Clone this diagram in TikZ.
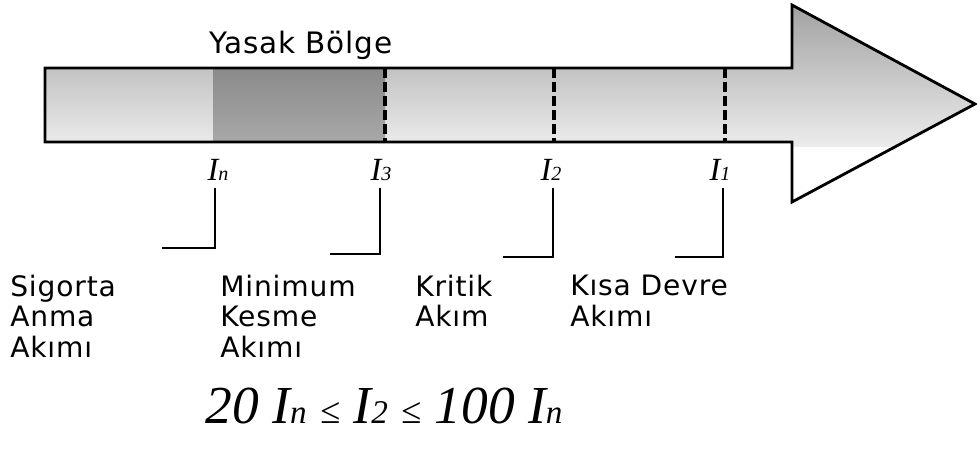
\documentclass[tikz,border=0pt]{standalone}
\usepackage{fontspec}
\setmainfont{Liberation Serif}
\setsansfont{DejaVu Sans}[LetterSpace=3]
\usetikzlibrary{positioning}
\usepackage{xcolor}

\newcommand{\lowsub}[1]{{\fontsize{0.62em}{1em}\selectfont #1}}

\begin{document}
\begin{tikzpicture}[x=0.025cm, y=-0.025cm]
\tikzstyle{label} = [font=\sffamily\fontsize{20}{21.5}\selectfont, align=left,
    anchor=north west, inner sep=0pt]
\tikzstyle{cur} = [font=\rmfamily\itshape\fontsize{23}{24}\selectfont, inner sep=0pt]
\tikzstyle{tickline} = [draw, line width=1.9pt]
\tikzstyle{border} = [draw, line width=2pt, line join=miter]
\tikzstyle{limit} = [draw, line width=2.4pt, dash pattern=on 7pt off 3pt]

\useasboundingbox (0,0) rectangle (977,450);

% arrow body
\begin{scope}
\clip (45,68) -- (792,68) -- (792,5) -- (975,104) -- (792,202) -- (792,142)
    -- (45,142) -- cycle;
\shade[top color=gray!75, bottom color=gray!15] (40,0) rectangle (980,146);
\shade[top color=gray!92, bottom color=gray!68] (213,68) rectangle (385,142);
\end{scope}
\path[border] (45,68) -- (792,68) -- (792,5) -- (975,104) -- (792,202)
    -- (792,142) -- (45,142) -- cycle;

% limits
\path[limit] (385,68) -- (385,142);
\path[limit] (554,68) -- (554,142);
\path[limit] (725,68) -- (725,142);

\node (yasak) [font=\sffamily\fontsize{21}{22}\selectfont, anchor=base]
    at (301,53) {Yasak Bölge};

\node (in) [cur] at (218,170) {I\lowsub{n}};
\node (i3) [cur] at (381,170) {I\lowsub{3}};
\node (i2) [cur] at (551,170) {I\lowsub{2}};
\node (i1) [cur] at (720,170) {I\lowsub{1}};

\coordinate (cn) at (215,248);
\coordinate (c3) at (380,254);
\coordinate (c2) at (553,257);
\coordinate (c1) at (723,257);

\path[tickline] (in.south -| cn) ++(0,7) -- (cn) -- ++(-53,0);
\path[tickline] (i3.south -| c3) ++(0,7) -- (c3) -- ++(-50,0);
\path[tickline] (i2.south -| c2) ++(0,7) -- (c2) -- ++(-50,0);
\path[tickline] (i1.south -| c1) ++(0,7) -- (c1) -- ++(-48,0);

\node (sigorta) [label] at (10,275) {Sigorta\\Anma\\Akımı};
\node (minimum) [label] at (220,275) {Minimum\\Kesme\\Akımı};
\node (kritik) [label] at (415,275) {Kritik\\Akım};
\node (kisa) [label] at (570,275) {Kısa Devre\\Akımı};

\node (formul) [font=\rmfamily\itshape\fontsize{38}{40}\selectfont, inner sep=0pt,
    anchor=base] at (384,423) {20 I\lowsub{n} {\fontsize{26}{26}\selectfont≤}
    I\lowsub{2} {\fontsize{26}{26}\selectfont≤} 100 I\lowsub{n}};
\end{tikzpicture}
\end{document}
